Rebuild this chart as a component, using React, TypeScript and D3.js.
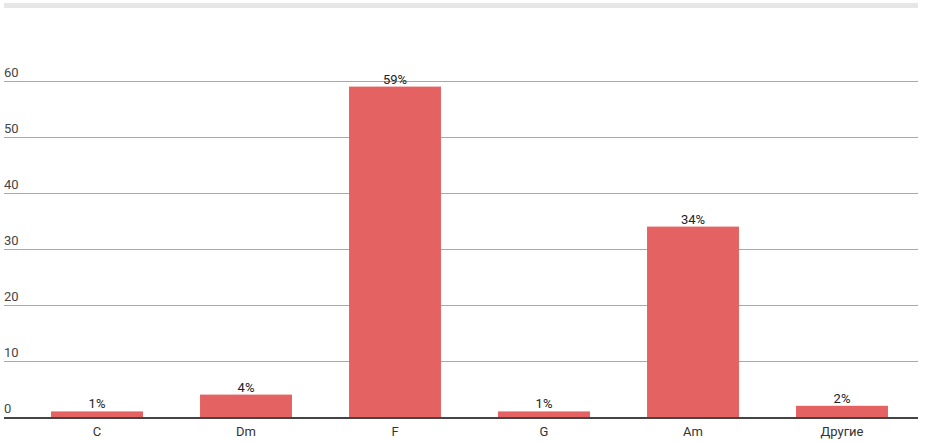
import React, { useEffect, useRef } from 'react';
import * as d3 from 'd3';

const categories = ['C', 'Dm', 'F', 'G', 'Am', 'Другие'];
const values = [1, 4, 59, 1, 34, 2];
const labels = ['1%', '4%', '59%', '1%', '34%', '2%'];
const yTicks = [0, 10, 20, 30, 40, 50, 60];

const W = 932;
const H = 443;

const App = () => {
  const svgRef = useRef(null);

  useEffect(() => {
    const svg = d3.select(svgRef.current);
    svg.selectAll('*').remove();

    const left = 4;
    const right = 918;
    const font = 'Roboto, "Noto Sans", sans-serif';

    const x = d3.scaleBand()
      .domain(categories)
      .range([22.5, 916.5])
      .paddingInner(0.383)
      .paddingOuter(0.1915);

    const y = d3.scaleLinear()
      .domain([0, 60])
      .range([417, 81]);

    // top header strip
    svg.append('rect')
      .attr('x', left).attr('y', 3)
      .attr('width', right - left).attr('height', 5)
      .attr('fill', '#e6e6e6');

    // gridlines
    svg.append('g')
      .selectAll('line')
      .data(yTicks.filter(t => t > 0))
      .join('line')
      .attr('x1', left).attr('x2', right)
      .attr('y1', d => y(d) + 0.5).attr('y2', d => y(d) + 0.5)
      .attr('stroke', '#a8a8a8')
      .attr('stroke-width', 1);

    svg.append('g')
      .selectAll('text')
      .data(yTicks)
      .join('text')
      .attr('x', left)
      .attr('y', d => y(d) - 4)
      .attr('font-family', font)
      .attr('font-size', 13)
      .attr('fill', '#444')
      .text(d => d);

    // bars
    svg.append('g')
      .attr('fill', '#e46262')
      .selectAll('rect')
      .data(values)
      .join('rect')
      .attr('x', (d, i) => x(categories[i]))
      .attr('y', d => y(d))
      .attr('width', x.bandwidth())
      .attr('height', d => y(0) - y(d));

    svg.append('g')
      .selectAll('text')
      .data(values)
      .join('text')
      .attr('x', (d, i) => x(categories[i]) + x.bandwidth() / 2)
      .attr('y', d => y(d) - 3)
      .attr('text-anchor', 'middle')
      .attr('font-family', font)
      .attr('font-size', 13)
      .attr('fill', '#222')
      .text((d, i) => labels[i]);

    // baseline
    svg.append('line')
      .attr('x1', left).attr('x2', right)
      .attr('y1', y(0) + 1).attr('y2', y(0) + 1)
      .attr('stroke', '#444')
      .attr('stroke-width', 2);

    svg.append('g')
      .selectAll('text')
      .data(categories)
      .join('text')
      .attr('x', d => x(d) + x.bandwidth() / 2)
      .attr('y', 436)
      .attr('text-anchor', 'middle')
      .attr('font-family', font)
      .attr('font-size', 13)
      .attr('fill', '#333')
      .text(d => d);
  }, []);

  return (
    <svg
      ref={svgRef}
      width={W}
      height={H}
      style={{ position: 'absolute', left: 0, top: 0, background: '#fff' }}
    />
  );
};

export default App;
